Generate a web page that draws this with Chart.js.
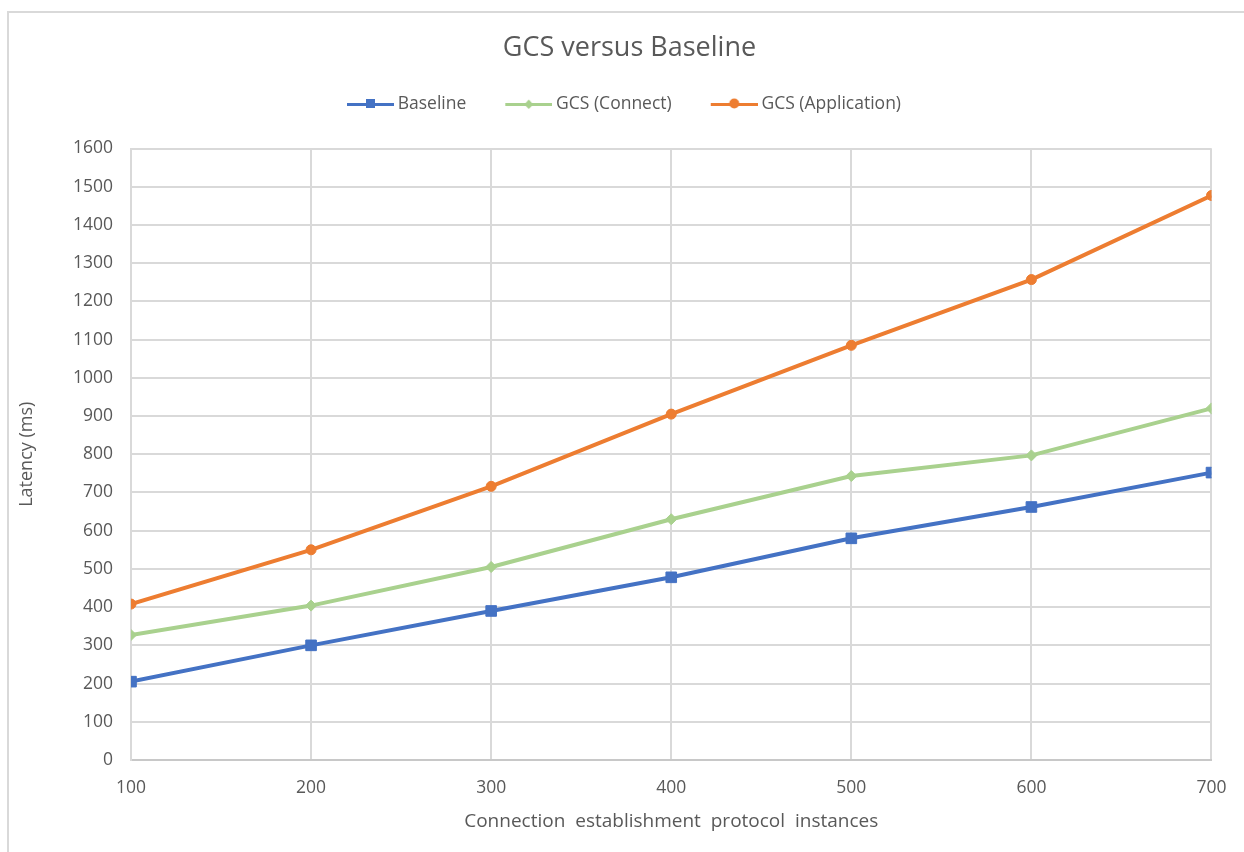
<!DOCTYPE html>
<html>
<head>
<meta charset="utf-8">
<script src="https://cdn.jsdelivr.net/npm/chart.js@4.4.1/dist/chart.umd.min.js"></script>
<style>
  html, body { margin: 0; padding: 0; background: #ffffff; }
  #wrap { position: relative; width: 1244px; height: 852px; }
</style>
</head>
<body>
<div id="wrap"><canvas id="c" width="1244" height="852"></canvas></div>
<script>
// ---- Data ----
const instances = [100, 200, 300, 400, 500, 600, 700];
const baseline = [205, 300, 390, 478, 580, 662, 752];
const gcsConnect = [327, 404, 505, 630, 743, 797, 920];
const gcsApplication = [408, 550, 716, 905, 1085, 1257, 1477];
const seriesNames = ['Baseline', 'GCS (Connect)', 'GCS (Application)'];
const titleText = 'GCS versus Baseline';
const xTitle = 'Connection  establishment  protocol  instances';
const yTitle = 'Latency (ms)';

const colors = ['#4472C4', '#A9D18E', '#ED7D31'];
const styles = ['rect', 'rectRot', 'circle'];
const radii = [7.5, 5.5, 5];

function pts(vals) { return instances.map((x, i) => ({ x: x, y: vals[i] })); }

// legend swatch: line with marker (image centred on the legend box)
const BOXW = 64, IMGW = 74, LINEW = 47;
function legendImage(color, style) {
  const cv = document.createElement('canvas');
  cv.width = IMGW; cv.height = 14;
  const g = cv.getContext('2d');
  const x0 = IMGW - LINEW, cx = x0 + LINEW / 2, cy = 7;
  g.strokeStyle = color; g.fillStyle = color; g.lineWidth = 3;
  g.beginPath(); g.moveTo(x0, cy + 0.5); g.lineTo(IMGW, cy + 0.5); g.stroke();
  g.beginPath();
  if (style === 'rect') { g.rect(cx - 4.5, cy - 5, 9, 9); }
  else if (style === 'rectRot') { g.moveTo(cx, cy - 4.5); g.lineTo(cx + 4.5, cy + 0.5); g.lineTo(cx, cy + 5); g.lineTo(cx - 4.5, cy + 0.5); g.closePath(); }
  else { g.arc(cx, cy - 0.5, 5, 0, Math.PI * 2); }
  g.fill();
  return cv;
}

const datasets = [baseline, gcsConnect, gcsApplication].map((vals, i) => ({
  label: seriesNames[i],
  data: pts(vals),
  borderColor: colors[i],
  backgroundColor: colors[i],
  borderWidth: 4,
  pointStyle: styles[i],
  pointRadius: radii[i],
  pointHoverRadius: radii[i],
  pointBorderWidth: 1,
  pointBorderColor: colors[i],
  pointBackgroundColor: colors[i],
  tension: 0,
  fill: false
}));

const frame = {
  id: 'frame',
  beforeDraw(chart) {
    const ctx = chart.ctx;
    ctx.save();
    ctx.fillStyle = '#ffffff';
    ctx.fillRect(0, 0, chart.width, chart.height);
    ctx.strokeStyle = '#d9d9d9';
    ctx.lineWidth = 2;
    ctx.beginPath();
    ctx.moveTo(8, 852); ctx.lineTo(8, 12); ctx.lineTo(1244, 12);
    ctx.stroke();
    // chart title
    ctx.fillStyle = '#595959';
    ctx.font = "27px 'Open Sans', 'Liberation Sans', sans-serif";
    ctx.textAlign = 'center';
    ctx.textBaseline = 'middle';
    ctx.fillText(titleText, 629.5, 48);
    ctx.restore();
  }
};

const legendSpace = {
  id: 'legendSpace',
  beforeInit(chart) {
    const orig = chart.legend.fit;
    chart.legend.fit = function () { orig.call(this); this.height = 70.25; };
  }
};

Chart.defaults.font.family = "'Open Sans', 'Liberation Sans', sans-serif";
Chart.defaults.color = '#595959';

new Chart(document.getElementById('c'), {
  type: 'line',
  data: { datasets: datasets },
  plugins: [frame, legendSpace],
  options: {
    responsive: false,
    animation: false,
    layout: { padding: { left: 13, right: 31, top: 78.25, bottom: 0 } },
    plugins: {
      tooltip: { enabled: false },
      title: { display: false },
      legend: {
        display: true, position: 'top',
        labels: {
          usePointStyle: true, pointStyleWidth: BOXW, boxHeight: 12,
          padding: 17, color: '#595959', font: { size: 17.5 },
          generateLabels(chart) {
            return chart.data.datasets.map((d, i) => ({
              text: d.label, datasetIndex: i, fontColor: '#595959',
              pointStyle: legendImage(colors[i], styles[i]),
              fillStyle: colors[i], strokeStyle: colors[i], lineWidth: 0, hidden: false
            }));
          }
        }
      }
    },
    scales: {
      x: {
        type: 'linear', min: 100, max: 700,
        afterFit(s) { s.height = 92; },
        ticks: { stepSize: 100, padding: 17.5, color: '#595959', font: { size: 17.5 },
                 callback: (v) => String(v) },
        grid: { color: '#d9d9d9', lineWidth: 2, drawTicks: false },
        border: { display: true, color: '#c8c8c8', width: 2 },
        title: { display: true, text: xTitle, color: '#595959', font: { size: 19 }, padding: { top: 0, bottom: 18.6 } }
      },
      y: {
        min: 0, max: 1600,
        afterFit(s) { s.width = 118; },
        ticks: { stepSize: 100, padding: 18, color: '#595959', font: { size: 17.5 },
                 callback: (v) => String(v) },
        grid: { color: '#d9d9d9', lineWidth: 2, drawTicks: false },
        border: { display: true, color: '#d9d9d9', width: 2 },
        title: { display: true, text: yTitle, color: '#595959', font: { size: 18 }, padding: { top: 3, bottom: 0 } }
      }
    }
  }
});
</script>
</body>
</html>
